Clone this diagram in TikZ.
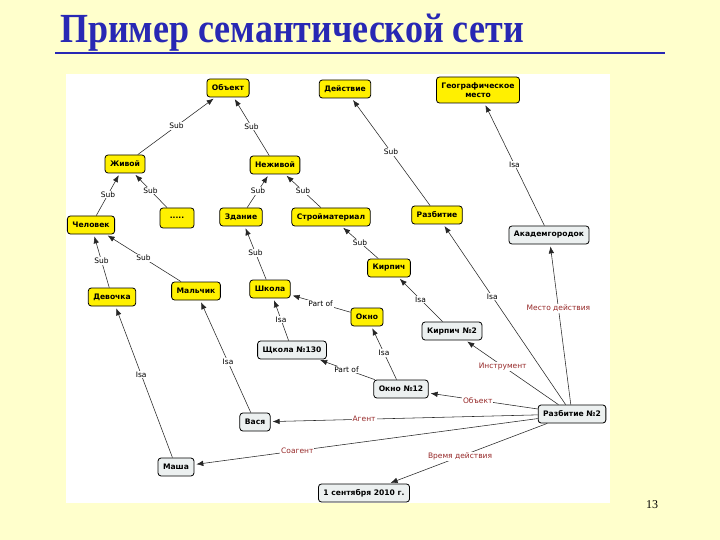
\documentclass[tikz,border=0pt]{standalone}
\usepackage{fontspec}
\setmainfont{Liberation Serif}
\setsansfont{DejaVu Sans}
\usetikzlibrary{arrows.meta, positioning}
\definecolor{pagebg}{RGB}{255,255,204}
\definecolor{titleblue}{RGB}{40,40,180}
\definecolor{conceptfill}{RGB}{255,240,0}
\definecolor{instfill}{RGB}{236,240,240}
\definecolor{relred}{RGB}{150,40,40}

\begin{document}
\begin{tikzpicture}[x=1pt, y=-1pt,
        concept/.style={rectangle, draw=black, line width=0.8pt, fill=conceptfill, rounded corners=3pt, minimum height=18pt, inner xsep=5pt, align=center, font=\sffamily\bfseries\fontsize{7.6}{9}\selectfont},
        inst/.style={concept, fill=instfill},
        link/.style={-{Latex[length=7pt,width=5.5pt]}, draw=black!85, line width=0.55pt, shorten >=2pt},
        tag/.style={midway, fill=white, inner sep=1pt, font=\sffamily\fontsize{7.5}{8}\selectfont},
        rtag/.style={tag, text=relred}
    ]
        \fill[pagebg] (0,0) rectangle (720,540);
        \fill[white] (66,74) rectangle (610,503);
        \node[anchor=base west, inner sep=0pt, text=titleblue, font=\bfseries\fontsize{36}{40}\selectfont] (title) at (60,43) {\scalebox{1}[1.15]{Пример семантической сети}};
        \draw[titleblue, line width=2pt] (55,53) -- (665,53);
        \node[font=\fontsize{12}{14}\selectfont] (pagenum) at (652,505) {13};
        % concepts
        \node[concept] (obekt) at (228,88) {Объект};
        \node[concept] (deistvie) at (345,89) {Действие};
        \node[concept, minimum height=26pt] (geo) at (478,90) {Географическое\\место};
        \node[concept] (zhivoy) at (125,164) {Живой};
        \node[concept] (nezhivoy) at (275,165) {Неживой};
        \node[concept] (chelovek) at (91,225) {Человек};
        \node[concept, minimum width=34pt, minimum height=20pt] (dots) at (177,218) {.....};
        \node[concept] (zdanie) at (241,217) {Здание};
        \node[concept] (stroymat) at (331,217) {Стройматериал};
        \node[concept] (razbitie) at (437,215) {Разбитие};
        \node[concept] (kirpich) at (389,268) {Кирпич};
        \node[concept] (devochka) at (112,297) {Девочка};
        \node[concept] (malchik) at (196,291) {Мальчик};
        \node[concept] (shkola) at (270,289) {Школа};
        \node[concept] (okno) at (367,317) {Окно};
        % instances
        \node[inst] (akadem) at (549,235) {Академгородок};
        \node[inst] (kirpich2) at (452,331) {Кирпич №2};
        \node[inst] (shkola130) at (292,350) {Щкола №130};
        \node[inst] (okno12) at (401,389) {Окно №12};
        \node[inst] (razbitie2) at (572,414) {Разбитие №2};
        \node[inst] (vasya) at (255,422) {Вася};
        \node[inst] (masha) at (176,467) {Маша};
        \node[inst] (data) at (364,493) {1 сентября 2010 г.};
        % sub / isa / part of
        \draw[link] (zhivoy) -- (obekt) node[tag] {Sub};
        \draw[link] (nezhivoy) -- (obekt) node[tag] {Sub};
        \draw[link] (razbitie) -- (deistvie) node[tag] {Sub};
        \draw[link] (akadem) -- (geo) node[tag] {Isa};
        \draw[link] (chelovek) -- (zhivoy) node[tag] {Sub};
        \draw[link] (dots) -- (zhivoy) node[tag] {Sub};
        \draw[link] (zdanie) -- (nezhivoy) node[tag] {Sub};
        \draw[link] (stroymat) -- (nezhivoy) node[tag] {Sub};
        \draw[link] (devochka) -- (chelovek) node[tag] {Sub};
        \draw[link] (malchik) -- (chelovek) node[tag] {Sub};
        \draw[link] (shkola) -- (zdanie) node[tag] {Sub};
        \draw[link] (kirpich) -- (stroymat) node[tag] {Sub};
        \draw[link] (okno) -- (shkola) node[tag] {Part of};
        \draw[link] (shkola130) -- (shkola) node[tag] {Isa};
        \draw[link] (kirpich2) -- (kirpich) node[tag] {Isa};
        \draw[link] (okno12) -- (okno) node[tag] {Isa};
        \draw[link] (okno12) -- (shkola130) node[tag] {Part of};
        \draw[link] (masha) -- (devochka) node[tag, pos=0.55] {Isa};
        \draw[link] (vasya) -- (malchik) node[tag, pos=0.45] {Isa};
        \draw[link] (razbitie2) -- (razbitie) node[tag, pos=0.6] {Isa};
        % relations of Разбитие №2
        \draw[link] (razbitie2) -- (akadem) node[rtag, pos=0.6] {Место действия};
        \draw[link] (razbitie2) -- (kirpich2) node[rtag, pos=0.6] {Инструмент};
        \draw[link] (razbitie2) -- (okno12) node[rtag, pos=0.55] {Объект};
        \draw[link] (razbitie2) -- (vasya) node[rtag, pos=0.65] {Агент};
        \draw[link] (razbitie2) -- (masha) node[rtag, pos=0.7] {Соагент};
        \draw[link] (razbitie2) -- (data) node[rtag, pos=0.55] {Время действия};
    \end{tikzpicture}
\end{document}
